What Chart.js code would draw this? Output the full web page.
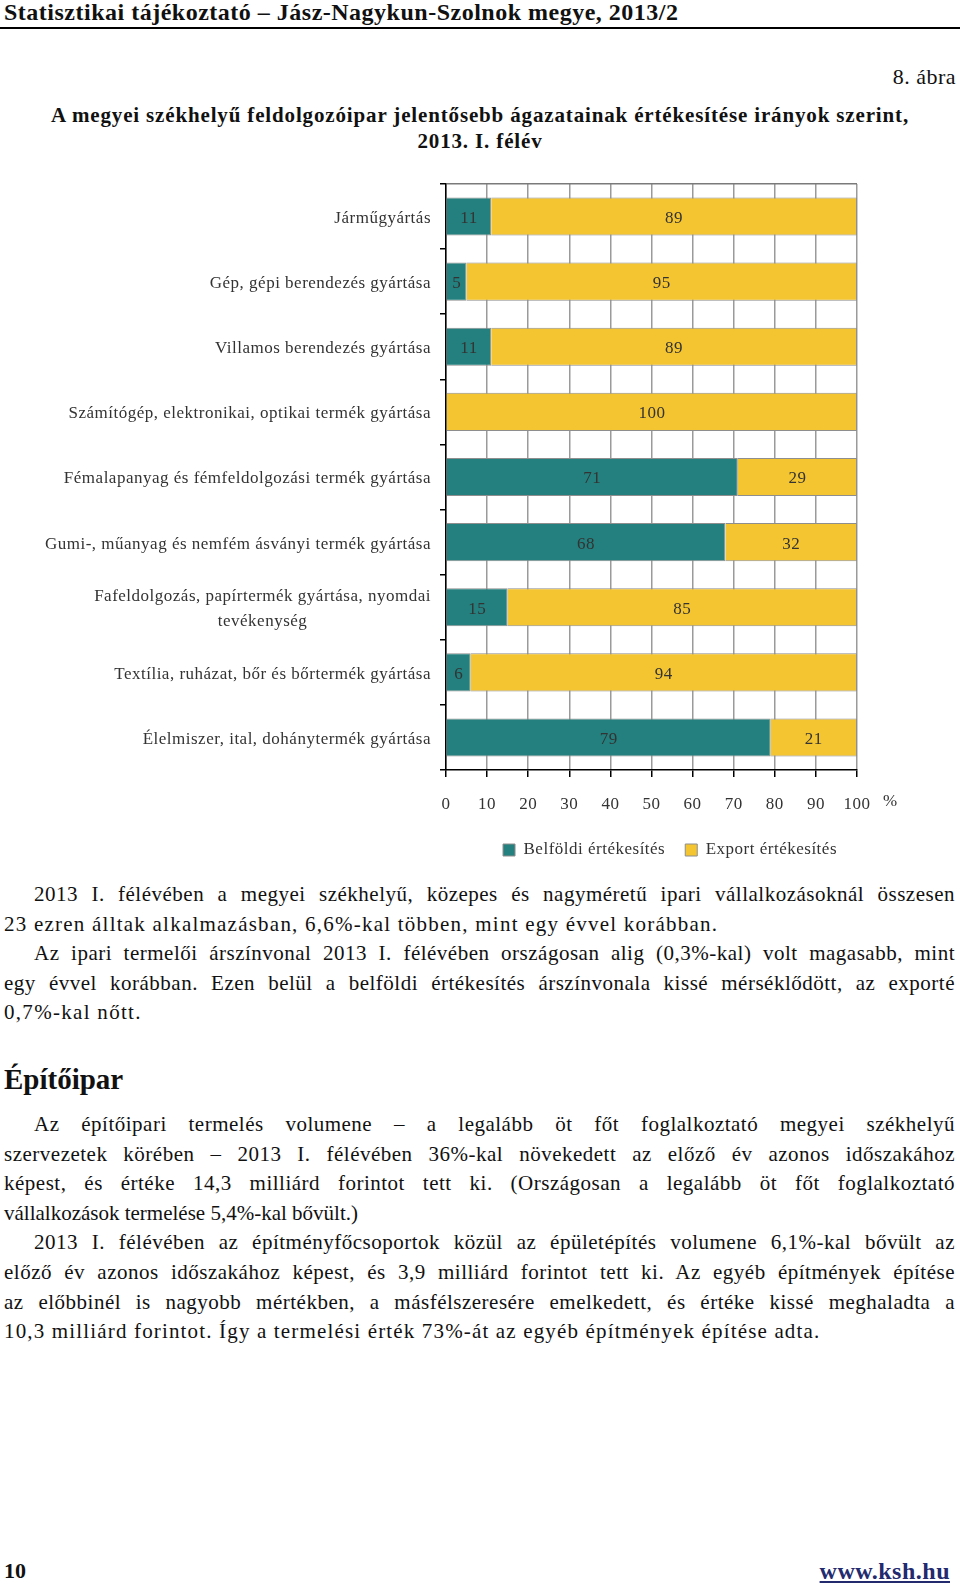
<!DOCTYPE html>
<html><head><meta charset="utf-8">
<script src="https://cdn.jsdelivr.net/npm/chart.js@4.4.0/dist/chart.umd.min.js"></script>
<style>
html,body{margin:0;padding:0;background:#fff;}
body{width:960px;height:1586px;position:relative;overflow:hidden;font-family:'Liberation Serif',serif;color:#111;}
.abs{position:absolute;}
#hdr{left:4px;top:-2px;font-size:24px;font-weight:bold;line-height:28px;white-space:nowrap;letter-spacing:0.5px;}
#rule{left:0;top:27px;width:960px;height:2px;background:#000;}
#fig{right:4px;top:63px;font-size:22px;line-height:28px;letter-spacing:0.5px;}
#title{left:0;width:960px;top:102px;text-align:center;font-weight:bold;font-size:21px;line-height:26px;letter-spacing:0.85px;}
.blk{left:4px;width:951px;font-size:21px;line-height:29.6px;}
.ln{text-align:justify;text-align-last:justify;letter-spacing:0.5px;}
.last{text-align:left;text-align-last:left;}
.ind{text-indent:30px;}
#h2{left:4px;top:1062px;font-size:29px;font-weight:bold;line-height:34px;}
#pg{left:4px;top:1557px;font-size:22px;font-weight:bold;line-height:28px;}
#web{right:10px;top:1557px;font-size:24px;font-weight:bold;line-height:28px;color:#232a6e;text-decoration:underline;letter-spacing:0.5px;}
#chartBox{left:0;top:160px;width:960px;height:720px;}
</style></head>
<body>
<div id="hdr" class="abs">Statisztikai tájékoztató – Jász-Nagykun-Szolnok megye, 2013/2</div>
<div id="rule" class="abs"></div>
<div id="fig" class="abs">8. ábra</div>
<div id="title" class="abs">A megyei székhelyű feldolgozóipar jelentősebb ágazatainak értékesítése irányok szerint,<br>2013. I. félév</div>
<div id="chartBox" class="abs"><canvas id="c" width="960" height="720"></canvas></div>

<div class="abs blk" style="top:880px">
<div class="ln ind">2013 I. félévében a megyei székhelyű, közepes és nagyméretű ipari vállalkozásoknál összesen</div>
<div class="ln last" style="letter-spacing:1.23px">23 ezren álltak alkalmazásban, 6,6%-kal többen, mint egy évvel korábban.</div>
<div class="ln ind">Az ipari termelői árszínvonal 2013 I. félévében országosan alig (0,3%-kal) volt magasabb, mint</div>
<div class="ln">egy évvel korábban. Ezen belül a belföldi értékesítés árszínvonala kissé mérséklődött, az exporté</div>
<div class="ln last" style="letter-spacing:1.3px">0,7%-kal nőtt.</div>
</div>
<div id="h2" class="abs">Építőipar</div>
<div class="abs blk" style="top:1110px">
<div class="ln ind">Az építőipari termelés volumene – a legalább öt főt foglalkoztató megyei székhelyű</div>
<div class="ln">szervezetek körében – 2013 I. félévében 36%-kal növekedett az előző év azonos időszakához</div>
<div class="ln">képest, és értéke 14,3 milliárd forintot tett ki. (Országosan a legalább öt főt foglalkoztató</div>
<div class="ln last" style="letter-spacing:0px">vállalkozások termelése 5,4%-kal bővült.)</div>
<div class="ln ind">2013 I. félévében az építményfőcsoportok közül az épületépítés volumene 6,1%-kal bővült az</div>
<div class="ln">előző év azonos időszakához képest, és 3,9 milliárd forintot tett ki. Az egyéb építmények építése</div>
<div class="ln">az előbbinél is nagyobb mértékben, a másfélszeresére emelkedett, és értéke kissé meghaladta a</div>
<div class="ln last" style="letter-spacing:1.16px">10,3 milliárd forintot. Így a termelési érték 73%-át az egyéb építmények építése adta.</div>
</div>
<div id="pg" class="abs">10</div>
<div id="web" class="abs">www.ksh.hu</div>

<script>
const categories = [
  'Járműgyártás',
  'Gép, gépi berendezés gyártása',
  'Villamos berendezés gyártása',
  'Számítógép, elektronikai, optikai termék gyártása',
  'Fémalapanyag és fémfeldolgozási termék gyártása',
  'Gumi-, műanyag és nemfém ásványi termék gyártása',
  ['Fafeldolgozás, papírtermék gyártása, nyomdai', 'tevékenység'],
  'Textília, ruházat, bőr és bőrtermék gyártása',
  'Élelmiszer, ital, dohánytermék gyártása'
];
const domesticSales = [11, 5, 11, 0, 71, 68, 15, 6, 79];
const exportSales = [89, 95, 89, 100, 29, 32, 85, 94, 21];
const seriesNames = ['Belföldi értékesítés', 'Export értékesítés'];
const axisUnit = '%';

const FONT = "'Liberation Serif', serif";
const LS = '0.5px';
Chart.defaults.font.family = FONT;
Chart.defaults.color = '#333';

const spacingPlugin = {
  id: 'spacing',
  beforeLayout(chart) { chart.ctx.letterSpacing = LS; },
  beforeDraw(chart) { chart.ctx.letterSpacing = LS; }
};

const yLabelPlugin = {
  id: 'yLabels',
  afterDraw(chart) {
    const ys = chart.scales.y, ctx = chart.ctx;
    ctx.save();
    ctx.letterSpacing = LS;
    ctx.font = "17px " + FONT;
    ctx.fillStyle = '#333';
    ctx.textBaseline = 'middle';
    ctx.textAlign = 'center';
    categories.forEach((lab, i) => {
      const lines = Array.isArray(lab) ? lab : [lab];
      const yc = ys.getPixelForValue(i) + 2;
      const w = Math.max(...lines.map(l => ctx.measureText(l).width));
      const right = ys.right - 15;
      lines.forEach((l, j) => {
        const y = yc + (j - (lines.length - 1) / 2) * 25;
        ctx.fillText(l, right - w / 2, y);
      });
    });
    ctx.restore();
  }
};

const valueLabelPlugin = {
  id: 'valueLabels',
  afterDatasetsDraw(chart) {
    const ctx = chart.ctx;
    ctx.save();
    ctx.letterSpacing = LS;
    ctx.font = "17px " + FONT;
    ctx.fillStyle = '#333';
    ctx.textAlign = 'center';
    ctx.textBaseline = 'middle';
    chart.data.datasets.forEach((ds, di) => {
      const meta = chart.getDatasetMeta(di);
      meta.data.forEach((bar, i) => {
        const v = ds.data[i];
        if (!v) return;
        const p = bar.getCenterPoint();
        ctx.fillText(String(v), p.x, p.y + 2);
      });
    });
    ctx.restore();
  }
};

const unitPlugin = {
  id: 'unit',
  afterDraw(chart) {
    const xs = chart.scales.x, ctx = chart.ctx;
    ctx.save();
    ctx.letterSpacing = LS;
    ctx.font = "17px " + FONT;
    ctx.fillStyle = '#333';
    ctx.textAlign = 'left';
    ctx.textBaseline = 'middle';
    ctx.fillText(axisUnit, xs.right + 26, xs.top + 32);
    ctx.restore();
  }
};

new Chart(document.getElementById('c'), {
  type: 'bar',
  data: {
    labels: categories,
    datasets: [
      { label: seriesNames[0], data: domesticSales, backgroundColor: '#23807e', borderColor: '#8e8e8e', borderWidth: 1 },
      { label: seriesNames[1], data: exportSales, backgroundColor: '#f4c531', borderColor: '#8e8e8e', borderWidth: 1 }
    ]
  },
  options: {
    indexAxis: 'y',
    responsive: false,
    animation: false,
    devicePixelRatio: 1,
    layout: { padding: { top: 24, right: 103, left: 0, bottom: 11.5 } },
    datasets: { bar: { barPercentage: 0.585, categoryPercentage: 1.0 } },
    scales: {
      x: {
        stacked: true, min: 0, max: 100,
        ticks: { stepSize: 10, padding: 17, font: { size: 17 }, color: '#333' },
        grid: { color: '#9a9a9a', lineWidth: 1.5, tickColor: '#000', tickLength: 7 },
        border: { color: '#000', width: 1.5 },
        afterFit(s) { s.height = 51.5; }
      },
      y: {
        stacked: true,
        ticks: { display: false },
        grid: {
          offset: true,
          color: (c) => c.index === 0 ? '#7a7a7a' : 'rgba(0,0,0,0)',
          lineWidth: 1.5,
          tickColor: '#000',
          tickLength: 6
        },
        border: { color: '#000', width: 1.5 },
        afterFit(s) { s.width = 446; }
      }
    },
    plugins: {
      legend: {
        position: 'bottom',
        fullSize: false,
        align: 'end',
        labels: { boxWidth: 12, boxHeight: 12, padding: 20, font: { size: 17 }, color: '#333' }
      },
      tooltip: { enabled: false }
    }
  },
  plugins: [spacingPlugin, yLabelPlugin, valueLabelPlugin, unitPlugin]
});
</script>
</body></html>
